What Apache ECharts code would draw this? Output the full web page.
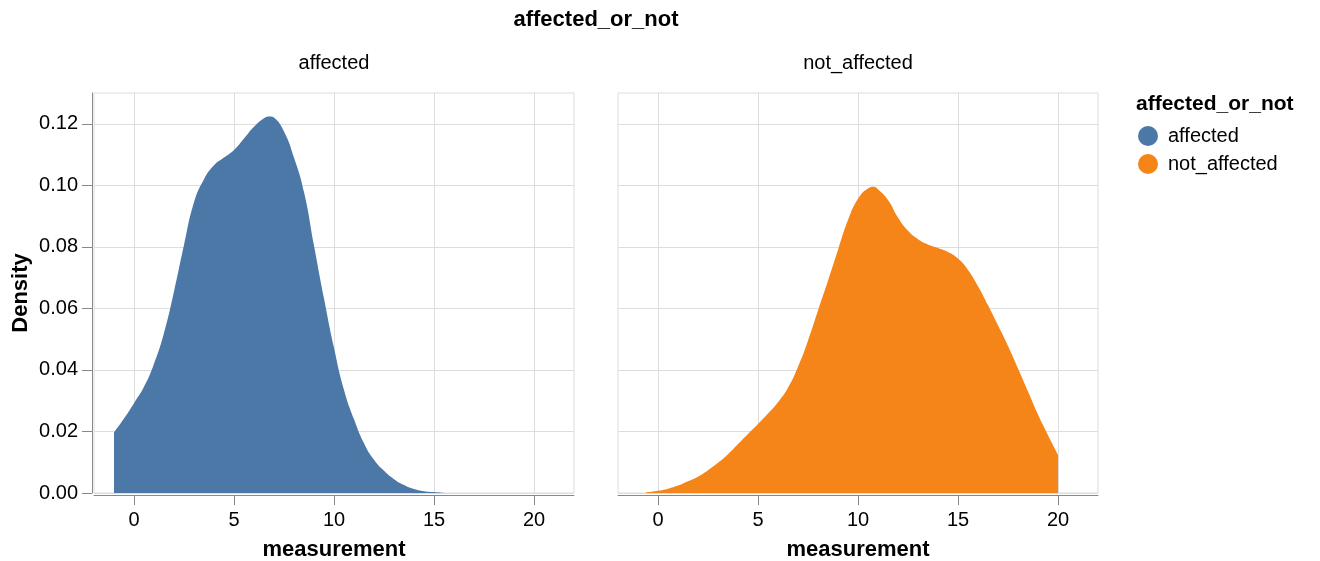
<!DOCTYPE html>
<html>
<head>
<meta charset="utf-8">
<script src="https://cdn.jsdelivr.net/npm/echarts@6/dist/echarts.min.js"></script>
<style>
  html, body { margin: 0; padding: 0; background: #fff; }
  #chart { width: 1320px; height: 561px; }
</style>
</head>
<body>
<div id="chart"></div>
<script>
// Kernel density estimates of "measurement", one facet per group
const facetNames = ['affected', 'not_affected'];
const fieldName = 'affected_or_not';

const affectedX = [-1, -0.5, 0, 0.5, 1, 1.5, 2, 2.5, 3, 3.5, 4, 4.5, 5, 5.5, 6, 6.5, 6.8, 7, 7.5, 8, 8.5, 9, 9.5, 10, 10.5, 11, 11.5, 12, 12.5, 13, 13.5, 14, 14.5, 15, 15.5];
const affectedDensity = [0.0197, 0.0242, 0.0292, 0.0345, 0.0420, 0.0520, 0.0655, 0.0806, 0.0945, 0.1020, 0.1065, 0.1090, 0.1115, 0.1152, 0.1190, 0.1218, 0.1224, 0.1220, 0.1175, 0.1090, 0.0978, 0.0804, 0.0632, 0.0472, 0.0335, 0.0240, 0.0162, 0.0108, 0.0072, 0.0045, 0.0026, 0.0013, 0.0006, 0.0003, 0.0001];

const notAffectedX = [-0.6, 0, 0.5, 1, 1.5, 2, 2.5, 3, 3.5, 4, 4.5, 5, 5.5, 6, 6.5, 7, 7.5, 8, 8.5, 9, 9.5, 10, 10.5, 10.8, 11, 11.5, 12, 12.5, 13, 13.5, 14, 14.5, 15, 15.5, 16, 16.5, 17, 17.5, 18, 18.5, 19, 19.5, 20];
const notAffectedDensity = [0.0002, 0.0007, 0.0014, 0.0024, 0.0038, 0.0053, 0.0074, 0.0098, 0.0126, 0.0159, 0.0192, 0.0224, 0.0258, 0.0295, 0.0342, 0.0410, 0.0495, 0.0593, 0.0690, 0.0790, 0.0887, 0.0956, 0.0990, 0.0995, 0.0987, 0.0952, 0.0895, 0.0852, 0.0825, 0.0808, 0.0796, 0.0783, 0.0762, 0.0725, 0.0672, 0.0610, 0.0545, 0.0478, 0.0405, 0.0330, 0.0255, 0.0188, 0.0124];

const xTicks = [0, 5, 10, 15, 20];
const yTicks = [0, 0.02, 0.04, 0.06, 0.08, 0.10, 0.12];
const groupColors = ['#4c78a8', '#f58518'];

const FONT = '"Liberation Sans", Arial, Helvetica, sans-serif';
const panelLefts = [94, 618];
const panelWidth = 480;
const panelTop = 93;
const panelHeight = 400;

function pairs(xs, ys) {
  return xs.map((x, i) => [x, ys[i]]);
}
const seriesData = [pairs(affectedX, affectedDensity), pairs(notAffectedX, notAffectedDensity)];

// Fixed panel geometry: keep the grid size regardless of label extents
const grids = panelLefts.map(left => ({
  left: left, top: panelTop, width: panelWidth, height: panelHeight,
  outerBoundsMode: 'none', containLabel: false,
  show: true, borderColor: '#ddd', borderWidth: 1, backgroundColor: 'transparent'
}));

const xAxes = panelLefts.map((_, i) => ({
  gridIndex: i, type: 'value', min: -2, max: 22, offset: 2,
  axisLine: { show: true, onZero: false, lineStyle: { color: '#888', width: 1 } },
  axisTick: { show: true, length: 10, customValues: xTicks, lineStyle: { color: '#888' } },
  axisLabel: { customValues: xTicks, margin: 15, fontSize: 20, color: '#000', fontFamily: FONT },
  splitLine: { show: true, lineStyle: { color: '#ddd', width: 1 } },
  name: 'measurement', nameLocation: 'middle', nameGap: 44,
  nameTextStyle: { fontSize: 22, fontWeight: 'bold', color: '#000', fontFamily: FONT }
}));

const yAxes = panelLefts.map((_, i) => ({
  gridIndex: i, type: 'value', min: 0, max: 0.13, offset: i === 0 ? 2 : 0,
  axisLine: { show: i === 0, onZero: false, lineStyle: { color: '#888', width: 1 } },
  axisTick: { show: i === 0, length: 10, customValues: yTicks, lineStyle: { color: '#888' } },
  axisLabel: {
    show: i === 0, customValues: yTicks, margin: 14, fontSize: 20, color: '#000', fontFamily: FONT,
    formatter: v => v.toFixed(2)
  },
  splitLine: { show: true, lineStyle: { color: '#ddd', width: 1 } },
  name: i === 0 ? 'Density' : '', nameLocation: 'middle', nameGap: 60, nameRotate: 90,
  nameTextStyle: { fontSize: 22, fontWeight: 'bold', color: '#000', fontFamily: FONT }
}));

const series = facetNames.map((name, i) => ({
  name: name, type: 'line', xAxisIndex: i, yAxisIndex: i,
  data: seriesData[i], smooth: 0.5, showSymbol: false, symbol: 'none',
  color: groupColors[i],
  lineStyle: { width: 0, color: groupColors[i] },
  areaStyle: { color: groupColors[i], opacity: 1 },
  itemStyle: { color: groupColors[i] },
  silent: true, animation: false
}));

const headerTexts = [
  { type: 'text', x: 596, y: 20, style: { text: fieldName, font: 'bold 22px ' + FONT, fill: '#000', align: 'center', verticalAlign: 'middle' } },
  { type: 'text', x: panelLefts[0] + panelWidth / 2, y: 63, style: { text: facetNames[0], font: '20px ' + FONT, fill: '#000', align: 'center', verticalAlign: 'middle' } },
  { type: 'text', x: panelLefts[1] + panelWidth / 2, y: 63, style: { text: facetNames[1], font: '20px ' + FONT, fill: '#000', align: 'center', verticalAlign: 'middle' } },
  { type: 'text', x: 1136, y: 104, style: { text: fieldName, font: 'bold 21px ' + FONT, fill: '#000', align: 'left', verticalAlign: 'middle' } }
];

const chart = echarts.init(document.getElementById('chart'), null, { renderer: 'canvas' });
chart.setOption({
  animation: false,
  backgroundColor: '#fff',
  grid: grids,
  xAxis: xAxes,
  yAxis: yAxes,
  series: series,
  legend: {
    data: facetNames, orient: 'vertical', left: 1133, top: 121,
    icon: 'circle', itemWidth: 20, itemHeight: 20, itemGap: 8,
    textStyle: { fontSize: 20, color: '#000', fontFamily: FONT, padding: [0, 0, 0, 5] },
    selectedMode: false
  },
  graphic: headerTexts
});
</script>
</body>
</html>
